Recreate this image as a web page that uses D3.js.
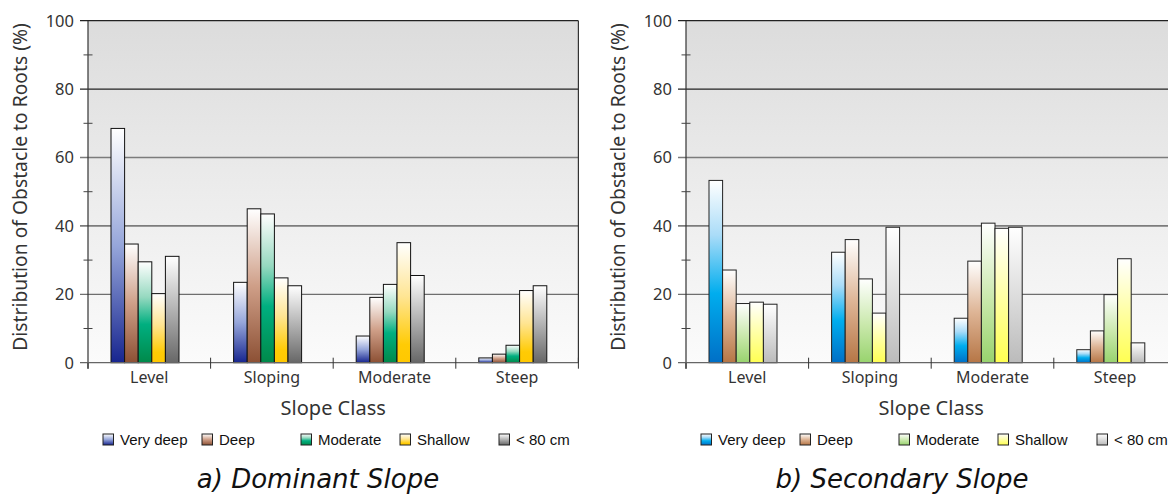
<!DOCTYPE html>
<html>
<head>
<meta charset="utf-8">
<script src="https://cdn.jsdelivr.net/npm/d3@7"></script>
<style>
  html, body { margin: 0; padding: 0; background: #ffffff; }
  svg { display: block; }
</style>
</head>
<body>
<svg id="chart" width="1168" height="497"></svg>
<script>
// Slope classes along the x axis
const categories = ["Level", "Sloping", "Moderate", "Steep"];
// Rooting depth classes (legend order)
const seriesNames = ["Very deep", "Deep", "Moderate", "Shallow", "< 80 cm"];

// a) Dominant slope — % of profiles per depth class
const dominantVeryDeep = [68.5, 23.5, 7.8, 1.4];
const dominantDeep     = [34.7, 45.0, 19.1, 2.5];
const dominantModerate = [29.5, 43.5, 22.9, 5.1];
const dominantShallow  = [20.2, 24.8, 35.1, 21.1];
const dominantUnder80  = [31.1, 22.5, 25.5, 22.5];

// b) Secondary slope — % of profiles per depth class
const secondaryVeryDeep = [53.3, 32.3, 13.0, 3.8];
const secondaryDeep     = [27.1, 36.0, 29.7, 9.3];
const secondaryModerate = [17.3, 24.5, 40.8, 19.9];
const secondaryShallow  = [17.7, 14.5, 39.3, 30.4];
const secondaryUnder80  = [17.1, 39.6, 39.6, 5.8];

// Axis ticks
const majorTicks = [0, 20, 40, 60, 80, 100];
const minorTicks = [10, 30, 50, 70, 90];

// Gradient ramps (top → bottom) for each depth class
const dominantRamps = [
  [[0, "#ffffff"], [0.5, "#96a6da"], [1, "#17258f"]],
  [[0, "#ffffff"], [0.5, "#cf9f88"], [1, "#8c5034"]],
  [[0, "#ffffff"], [0.35, "#96d9c0"], [0.62, "#00af80"], [1, "#00894a"]],
  [[0, "#ffffff"], [0.45, "#ffe593"], [0.85, "#ffcb05"], [1, "#ffc800"]],
  [[0, "#ffffff"], [1, "#676767"]]
];
const secondaryRamps = [
  [[0, "#ffffff"], [0.3, "#aadcf8"], [0.62, "#00adee"], [1, "#006fc6"]],
  [[0, "#ffffff"], [0.5, "#deb596"], [1, "#b67646"]],
  [[0, "#ffffff"], [0.55, "#c9e8ab"], [1, "#98d36e"]],
  [[0, "#ffffff"], [0.5, "#ffffa6"], [1, "#ffff52"]],
  [[0, "#ffffff"], [1, "#bbbbbb"]]
];

const svg = d3.select("#chart");
const defs = svg.append("defs");

function makeRamp(id, stops) {
  const g = defs.append("linearGradient")
    .attr("id", id).attr("x1", 0).attr("y1", 0).attr("x2", 0).attr("y2", 1);
  stops.forEach(([o, c]) => g.append("stop").attr("offset", o).attr("stop-color", c));
}

// plot background ramp
makeRamp("plotBg", [[0, "#dcdcdc"], [0.5, "#ececec"], [1, "#fbfbfb"]]);

const labelFont = "'Noto Sans', 'Open Sans', sans-serif";

function drawPanel(opts) {
  const { left, key, series, ramps, title, titleX, barStroke } = opts;
  const top = 20.7, bottom = 362.7, step = 122.6;
  const right = left + step * categories.length;

  ramps.forEach((r, i) => makeRamp(`${key}-ramp-${i}`, r));

  const g = svg.append("g");

  const x0 = d3.scaleBand().domain(categories).range([left, right]).padding(0);
  const x1 = d3.scaleBand().domain(seriesNames).range([23, 23 + 5 * 13.6]).padding(0);
  const y = d3.scaleLinear().domain([0, 100]).range([bottom, top]);

  // plot area
  g.append("rect")
    .attr("x", left).attr("y", y(100))
    .attr("width", right - left).attr("height", y(0) - y(100))
    .attr("fill", "url(#plotBg)");

  // horizontal gridlines
  const gridStyle = { 20: ["#4d4d4d", 1], 40: ["#7c7c7c", 1.6], 60: ["#7c7c7c", 1.6], 80: ["#222222", 1.2], 100: ["#222222", 1.2] };
  majorTicks.filter(t => t > 0).forEach(t => {
    const [c, w] = gridStyle[t];
    g.append("line")
      .attr("x1", left - 8).attr("x2", right)
      .attr("y1", y(t)).attr("y2", y(t))
      .attr("stroke", c).attr("stroke-width", w);
  });

  // right frame
  g.append("line")
    .attr("x1", right).attr("x2", right)
    .attr("y1", y(100)).attr("y2", y(0))
    .attr("stroke", "#333").attr("stroke-width", 1.2);

  // bars
  const rows = categories.map((c, ci) => ({ cat: c, vals: series.map(s => s[ci]) }));
  const grp = g.selectAll("g.cluster").data(rows).join("g")
    .attr("class", "cluster")
    .attr("transform", d => `translate(${x0(d.cat)},0)`);
  grp.selectAll("rect").data(d => d.vals.map((v, i) => ({ v, i })))
    .join("rect")
    .attr("x", d => x1(seriesNames[d.i]))
    .attr("y", d => y(d.v))
    .attr("width", x1.bandwidth())
    .attr("height", d => y(0) - y(d.v))
    .attr("fill", d => `url(#${key}-ramp-${d.i})`)
    .attr("stroke", barStroke).attr("stroke-width", 1);

  // y axis line
  g.append("line")
    .attr("x1", left).attr("x2", left)
    .attr("y1", y(100)).attr("y2", y(0) + 6)
    .attr("stroke", "#333").attr("stroke-width", 1.2);

  // minor ticks crossing the axis
  minorTicks.forEach(t => {
    g.append("line")
      .attr("x1", left - 4.5).attr("x2", left + 4.5)
      .attr("y1", y(t)).attr("y2", y(t))
      .attr("stroke", "#444").attr("stroke-width", 1);
  });

  // baseline
  g.append("line")
    .attr("x1", left - 8).attr("x2", right)
    .attr("y1", y(0)).attr("y2", y(0))
    .attr("stroke", "#666").attr("stroke-width", 1.3);

  // category boundary ticks
  const bounds = categories.map(c => x0(c)).concat([right]);
  bounds.forEach((bx, i) => {
    g.append("line")
      .attr("x1", bx).attr("x2", bx)
      .attr("y1", i === 0 ? y(0) : y(0) - 5).attr("y2", y(0) + 6)
      .attr("stroke", "#333").attr("stroke-width", 1);
  });

  // y tick labels
  majorTicks.forEach(t => {
    g.append("text")
      .attr("x", left - 14).attr("y", y(t))
      .attr("dy", "0.36em")
      .attr("text-anchor", "end")
      .attr("font-family", labelFont).attr("font-size", 16.5)
      .attr("fill", "#333")
      .text(t);
  });

  // category labels
  categories.forEach(c => {
    g.append("text")
      .attr("x", x0(c) + x0.bandwidth() / 2).attr("y", 382.5)
      .attr("text-anchor", "middle")
      .attr("font-family", labelFont).attr("font-size", 16)
      .attr("fill", "#333")
      .text(c);
  });

  // axis titles
  g.append("text")
    .attr("x", (left + right) / 2).attr("y", 415)
    .attr("text-anchor", "middle")
    .attr("font-family", labelFont).attr("font-size", 20)
    .attr("fill", "#333")
    .text("Slope Class");

  g.append("text")
    .attr("transform", `translate(${left - 61},187) rotate(-90)`)
    .attr("text-anchor", "middle")
    .attr("font-family", labelFont).attr("font-size", 19.3)
    .attr("fill", "#333")
    .text("Distribution of Obstacle to Roots (%)");

  // legend
  const leg = g.append("g").attr("transform", `translate(${left + 15},434)`);
  seriesNames.forEach((name, i) => {
    const item = leg.append("g").attr("transform", `translate(${i * 99},0)`);
    item.append("rect")
      .attr("x", 0).attr("y", 0).attr("width", 10.5).attr("height", 11)
      .attr("fill", `url(#${key}-ramp-${i})`)
      .attr("stroke", "#222").attr("stroke-width", 1);
    item.append("text")
      .attr("x", 17).attr("y", 11)
      .attr("font-family", "'Liberation Sans', Arial, sans-serif").attr("font-size", 15)
      .attr("fill", "#111")
      .text(name);
  });

  // panel caption
  g.append("text")
    .attr("x", titleX).attr("y", 488)
    .attr("text-anchor", "middle")
    .attr("font-family", "'DejaVu Sans', Verdana, sans-serif")
    .attr("font-style", "italic")
    .attr("font-size", 26)
    .attr("fill", "#111")
    .text(title);
}

drawPanel({
  left: 88,
  key: "dom",
  series: [dominantVeryDeep, dominantDeep, dominantModerate, dominantShallow, dominantUnder80],
  ramps: dominantRamps,
  title: "a) Dominant Slope",
  titleX: 318,
  barStroke: "#111"
});

drawPanel({
  left: 686,
  key: "sec",
  series: [secondaryVeryDeep, secondaryDeep, secondaryModerate, secondaryShallow, secondaryUnder80],
  ramps: secondaryRamps,
  title: "b) Secondary Slope",
  titleX: 902,
  barStroke: "#222"
});
</script>
</body>
</html>
